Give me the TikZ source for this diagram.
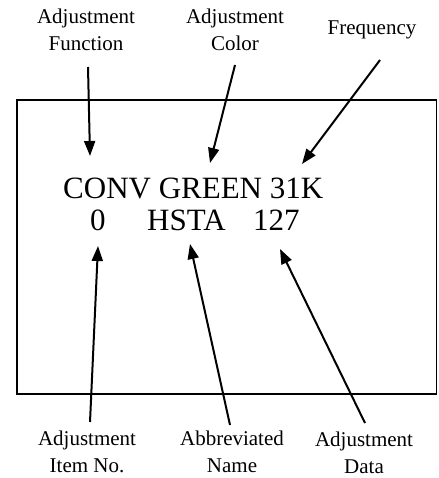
\documentclass[tikz,border=0pt]{standalone}
\usepackage{fontspec}
\setmainfont{Liberation Serif}
\usetikzlibrary{arrows.meta}

\begin{document}
\begin{tikzpicture}[x=1pt,y=-1pt,
  callout/.style={line width=2pt,-{Triangle[length=15pt,width=11pt]}},
  caption/.style={align=center,inner sep=0pt,font=\fontsize{21}{26.5}\selectfont},
  readout/.style={anchor=base west,inner sep=0pt,font=\fontsize{31}{36}\selectfont},
]
\useasboundingbox (0,0) rectangle (438,478);
% screen frame
\draw[line width=1.5pt] (17,100) rectangle (436.5,394);
% screen readout
\node[readout] (mode) at (63,198) {CONV GREEN 31K};
\node[readout] (item) at (90,230) {0};
\node[readout] (abbr) at (147,230) {HSTA};
\node[readout] (data) at (253,230) {127};
% top captions
\node[caption] (capfunc) at (86,30) {Adjustment\\Function};
\node[caption] (capcolor) at (235,30) {Adjustment\\Color};
\node[caption] (capfreq) at (372,30) {Frequency};
% bottom captions
\node[caption] (capitem) at (87,452) {Adjustment\\Item No.};
\node[caption] (capabbr) at (232,452) {Abbreviated\\Name};
\node[caption] (capdata) at (364,453) {Adjustment\\Data};
% arrow ends
\coordinate (funcA) at (88,67);   \coordinate (funcB) at (90,156);
\coordinate (colorA) at (235,65); \coordinate (colorB) at (210,163);
\coordinate (freqA) at (380,60);  \coordinate (freqB) at (302,164);
\coordinate (itemA) at (90,422);  \coordinate (itemB) at (98,246);
\coordinate (abbrA) at (230,425); \coordinate (abbrB) at (190,244);
\coordinate (dataA) at (365,423); \coordinate (dataB) at (280,249);
% callout arrows
\draw[callout] (funcA) -- (funcB);
\draw[callout] (colorA) -- (colorB);
\draw[callout] (freqA) -- (freqB);
\draw[callout] (itemA) -- (itemB);
\draw[callout] (abbrA) -- (abbrB);
\draw[callout] (dataA) -- (dataB);
\end{tikzpicture}
\end{document}
